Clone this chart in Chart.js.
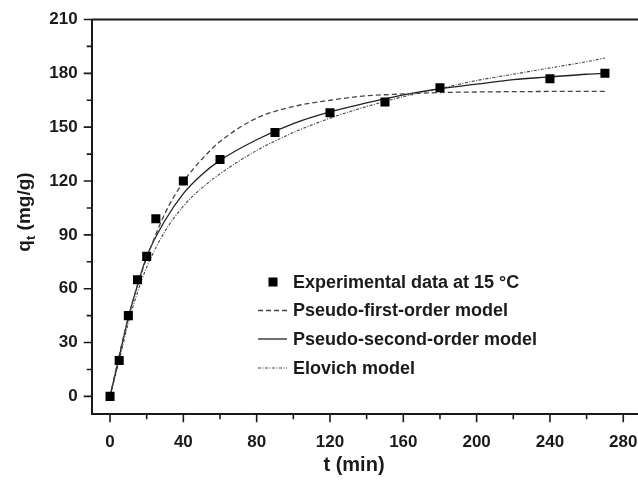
<!DOCTYPE html>
<html>
<head>
<meta charset="utf-8">
<script src="https://cdn.jsdelivr.net/npm/chart.js@4.4.0/dist/chart.umd.min.js"></script>
<style>
  html, body { margin: 0; padding: 0; background: #fff; overflow: hidden; }
  #wrap { width: 648px; height: 482px; position: relative; }
</style>
</head>
<body>
<div id="wrap"><canvas id="kinChart"></canvas></div>
<script>
// experimental points
const tExp = [0, 5, 10, 15, 20, 25, 40, 60, 90, 120, 150, 180, 240, 270];
const qExp = [0, 20, 45, 65, 78, 99, 120, 132, 147, 158, 164, 172, 177, 180];

// model curves
const tModel = [0, 5, 10, 15, 20, 30, 40, 50, 60, 80, 100, 120, 140, 160, 180, 200, 220, 240, 260, 270];
const qFirst = [0, 23, 44, 62, 77, 102, 119.5, 132, 142, 155, 161.5, 165, 167.5, 168.5, 169.3, 169.6, 169.8, 169.9, 170, 170];
const qSecond = [0, 22, 44, 62, 78, 98, 113, 123.5, 131.5, 143, 152, 158.5, 163.5, 168, 171.5, 174, 176.5, 178, 179.5, 180];
const qElovich = [0, 20, 41, 58, 72, 92, 106, 116, 124, 137, 147, 155, 161.5, 167, 171.5, 176, 179.5, 183, 186.5, 188.5];

// ticks
const xTicks = [0, 20, 40, 60, 80, 100, 120, 140, 160, 180, 200, 220, 240, 260, 280];
const yTicks = [0, 15, 30, 45, 60, 75, 90, 105, 120, 135, 150, 165, 180, 195, 210];

const legendLabels = ["Experimental data at 15 °C", "Pseudo-first-order model", "Pseudo-second-order model", "Elovich model"];

const FONT = "'Liberation Sans', Arial, Helvetica, sans-serif";
const INK = "#1a1a1a";

function toPoints(xs, ys){
    return xs.map(function(x, i){ return {x: x, y: ys[i]}; });
}

const decor = {
    id: "decor",
    afterDraw: function(chart){
        const ctx = chart.ctx;
        const a = chart.chartArea;
        const xs = chart.scales.x;
        const ys = chart.scales.y;
        ctx.save();
        ctx.strokeStyle = INK;
        ctx.lineWidth = 2;
        // top and right frame
        ctx.beginPath();
        ctx.moveTo(a.left, a.top);
        ctx.lineTo(a.right, a.top);
        ctx.lineTo(a.right, a.bottom);
        ctx.stroke();
        // tick marks
        ctx.lineWidth = 1.6;
        ctx.beginPath();
        xTicks.forEach(function(v){
            const px = xs.getPixelForValue(v);
            const len = v % 40 === 0 ? 8 : 5;
            ctx.moveTo(px, a.bottom);
            ctx.lineTo(px, a.bottom + len);
        });
        yTicks.forEach(function(v){
            const py = ys.getPixelForValue(v);
            const len = v % 30 === 0 ? 8 : 5;
            ctx.moveTo(a.left, py);
            ctx.lineTo(a.left - len, py);
        });
        ctx.stroke();

        // axis titles
        ctx.fillStyle = INK;
        ctx.font = "bold 20px " + FONT;
        ctx.textAlign = "center";
        ctx.textBaseline = "middle";
        ctx.fillText("t (min)", 354, 465);

        ctx.save();
        ctx.translate(25, 212);
        ctx.rotate(-Math.PI / 2);
        ctx.font = "bold 19px " + FONT;
        const wq = ctx.measureText("q").width;
        const rest = " (mg/g)";
        const wr = ctx.measureText(rest).width;
        ctx.font = "bold 13px " + FONT;
        const wt = ctx.measureText("t").width;
        let x0 = -(wq + wt + wr) / 2;
        ctx.textAlign = "left";
        ctx.font = "bold 19px " + FONT;
        ctx.fillText("q", x0, 0);
        ctx.font = "bold 13px " + FONT;
        ctx.fillText("t", x0 + wq, 6);
        ctx.font = "bold 19px " + FONT;
        ctx.fillText(rest, x0 + wq + wt, 0);
        ctx.restore();

        // legend
        const rows = [282, 310.5, 339, 368];
        const lx0 = 258, lx1 = 287, tx = 293;
        ctx.fillStyle = "#000";
        ctx.fillRect(268.5, rows[0] - 4.5, 9, 9);
        ctx.lineWidth = 1.3;
        ctx.strokeStyle = "#444";
        ctx.setLineDash([5, 3]);
        ctx.beginPath(); ctx.moveTo(lx0, rows[1]); ctx.lineTo(lx1, rows[1]); ctx.stroke();
        ctx.strokeStyle = "#222";
        ctx.setLineDash([]);
        ctx.beginPath(); ctx.moveTo(lx0, rows[2]); ctx.lineTo(lx1, rows[2]); ctx.stroke();
        ctx.strokeStyle = "#444";
        ctx.lineWidth = 1.1;
        ctx.setLineDash([3, 1.5, 1, 1.5]);
        ctx.beginPath(); ctx.moveTo(lx0, rows[3]); ctx.lineTo(lx1, rows[3]); ctx.stroke();
        ctx.setLineDash([]);
        ctx.fillStyle = INK;
        ctx.font = "bold 18px " + FONT;
        ctx.textAlign = "left";
        ctx.textBaseline = "middle";
        legendLabels.forEach(function(s, i){
            ctx.fillText(s, tx, rows[i] + 1);
        });
        ctx.restore();
    }
};

const ctx = document.getElementById("kinChart");
const myChart = new Chart(ctx, {
    type: "scatter",
    data: {
        datasets: [{
            label: legendLabels[0],
            data: toPoints(tExp, qExp),
            pointStyle: "rect",
            pointRadius: 6.4,
            pointBackgroundColor: "#000",
            pointBorderWidth: 0,
            showLine: false
        }, {
            label: legendLabels[1],
            data: toPoints(tModel, qFirst),
            showLine: true,
            pointRadius: 0,
            borderColor: "#444",
            borderWidth: 1.3,
            borderDash: [5, 3],
            cubicInterpolationMode: "monotone"
        }, {
            label: legendLabels[2],
            data: toPoints(tModel, qSecond),
            showLine: true,
            pointRadius: 0,
            borderColor: "#222",
            borderWidth: 1.3,
            cubicInterpolationMode: "monotone"
        }, {
            label: legendLabels[3],
            data: toPoints(tModel, qElovich),
            showLine: true,
            pointRadius: 0,
            borderColor: "#444",
            borderWidth: 1.1,
            borderDash: [3, 1.5, 1, 1.5],
            cubicInterpolationMode: "monotone"
        }]
    },
    options: {
        responsive: true,
        maintainAspectRatio: false,
        animation: false,
        layout: { padding: { top: 19.5, right: 1, left: 0, bottom: 0 } },
        plugins: {
            legend: { display: false },
            tooltip: { enabled: false }
        },
        scales: {
            x: {
                type: "linear",
                min: -10,
                max: 290,
                afterBuildTicks: function(scale){
                    scale.ticks = xTicks.map(function(v){ return {value: v}; });
                },
                afterFit: function(scale){
                    scale.height = 67.7;
                    scale.paddingLeft = 0;
                    scale.paddingRight = 0;
                },
                grid: { display: true, drawOnChartArea: false, drawTicks: false },
                border: { display: true, color: INK, width: 2 },
                ticks: {
                    autoSkip: false,
                    maxRotation: 0,
                    padding: 18,
                    color: INK,
                    font: { family: FONT, size: 17, weight: "bold" },
                    callback: function(v){ return v % 40 === 0 ? v : ""; }
                }
            },
            y: {
                type: "linear",
                min: -10,
                max: 210,
                afterBuildTicks: function(scale){
                    scale.ticks = yTicks.map(function(v){ return {value: v}; });
                },
                afterFit: function(scale){
                    scale.width = 91.7;
                    scale.paddingTop = 0;
                    scale.paddingBottom = 0;
                },
                grid: { display: true, drawOnChartArea: false, drawTicks: false },
                border: { display: true, color: INK, width: 2 },
                ticks: {
                    autoSkip: false,
                    padding: 14,
                    color: INK,
                    font: { family: FONT, size: 17, weight: "bold" },
                    callback: function(v){ return v % 30 === 0 ? v : ""; }
                }
            }
        }
    },
    plugins: [decor]
});
</script>
</body>
</html>
